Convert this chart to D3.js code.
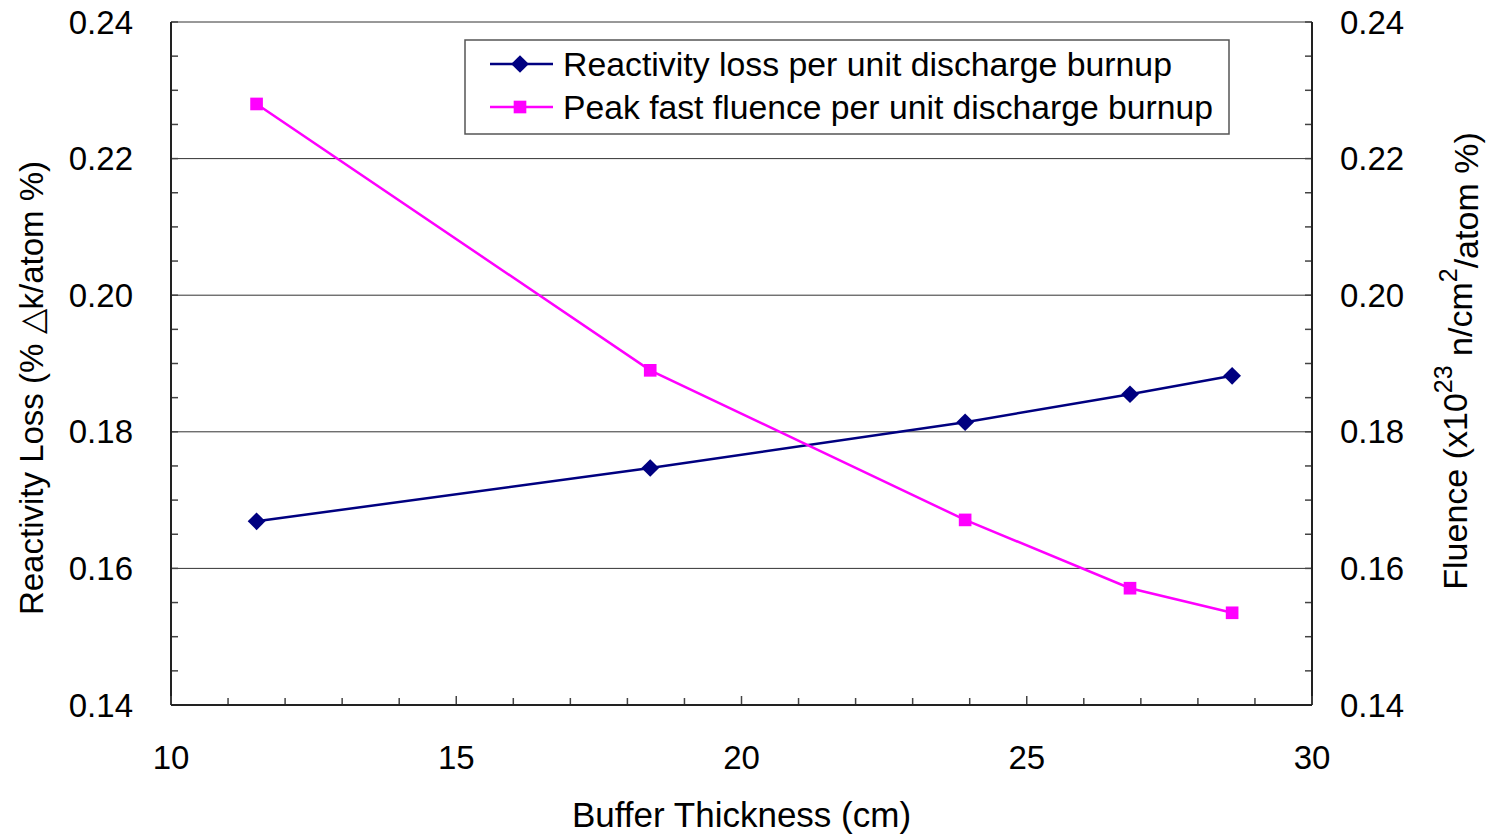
<!DOCTYPE html>
<html>
<head>
<meta charset="utf-8">
<script src="https://cdn.jsdelivr.net/npm/d3@7"></script>
<style>
  body { margin: 0; background: #fff; }
  text { font-family: "Liberation Sans", Arial, sans-serif; fill: #000; }
</style>
</head>
<body>
<div id="chart"></div>
<script>
// buffer thickness (cm)
const thickness = [11.5, 18.4, 23.92, 26.81, 28.6];
// reactivity loss per unit discharge burnup (% dk / atom %)
const reactivityLoss = [0.1669, 0.1747, 0.1814, 0.1855, 0.1882];
// peak fast fluence per unit discharge burnup (x10^23 n/cm2 / atom %)
const fastFluence = [0.2280, 0.1890, 0.1671, 0.1571, 0.1535];

const xTicks = [10, 15, 20, 25, 30];
const yTicks = [0.14, 0.16, 0.18, 0.20, 0.22, 0.24];
const seriesNames = ["Reactivity loss per unit discharge burnup", "Peak fast fluence per unit discharge burnup"];

const width = 1486, height = 836;
const margin = { top: 22, right: 174, bottom: 131, left: 171 };
const innerW = width - margin.left - margin.right;
const innerH = height - margin.top - margin.bottom;

const svg = d3.select('#chart').append('svg')
    .attr('width', width)
    .attr('height', height);

const x = d3.scaleLinear().domain([10, 30]).range([0, innerW]);
const yL = d3.scaleLinear().domain([0.14, 0.24]).range([innerH, 0]);
const yR = d3.scaleLinear().domain([0.14, 0.24]).range([innerH, 0]);

const chart = svg.append('g')
    .attr('transform', `translate(${margin.left}, ${margin.top})`);

// gridlines
chart.append('g')
    .selectAll('line')
    .data(yTicks.slice(1))
    .enter().append('line')
    .attr('x1', 0).attr('x2', innerW)
    .attr('y1', d => yL(d)).attr('y2', d => yL(d))
    .attr('stroke', '#333').attr('stroke-width', 1);

// minor ticks
const minorY = d3.range(0.14, 0.2401, 0.005);
const minorX = d3.range(10, 30.01, 1);

const leftAxis = chart.append('g').attr('class', 'axis y-left');
leftAxis.selectAll('line.minor').data(minorY).enter().append('line')
    .attr('x1', 0).attr('x2', 7)
    .attr('y1', d => yL(d)).attr('y2', d => yL(d))
    .attr('stroke', '#444').attr('stroke-width', 1.5);
leftAxis.append('line').attr('x1', 0).attr('x2', 0).attr('y1', 0).attr('y2', innerH)
    .attr('stroke', '#222').attr('stroke-width', 2);
leftAxis.selectAll('text').data(yTicks).enter().append('text')
    .attr('x', -38).attr('y', d => yL(d)).attr('dy', '0.35em')
    .attr('text-anchor', 'end').style('font-size', '33px')
    .text(d => d.toFixed(2));

const rightAxis = chart.append('g').attr('class', 'axis y-right')
    .attr('transform', `translate(${innerW}, 0)`);
rightAxis.selectAll('line.minor').data(minorY).enter().append('line')
    .attr('x1', 0).attr('x2', -7)
    .attr('y1', d => yR(d)).attr('y2', d => yR(d))
    .attr('stroke', '#444').attr('stroke-width', 1.5);
rightAxis.append('line').attr('x1', 0).attr('x2', 0).attr('y1', 0).attr('y2', innerH)
    .attr('stroke', '#222').attr('stroke-width', 2);
rightAxis.selectAll('text').data(yTicks).enter().append('text')
    .attr('x', 28).attr('y', d => yR(d)).attr('dy', '0.35em')
    .attr('text-anchor', 'start').style('font-size', '33px')
    .text(d => d.toFixed(2));

const bottomAxis = chart.append('g').attr('class', 'axis x-axis')
    .attr('transform', `translate(0, ${innerH})`);
bottomAxis.selectAll('line.minor').data(minorX).enter().append('line')
    .attr('x1', d => x(d)).attr('x2', d => x(d))
    .attr('y1', 0).attr('y2', d => d % 5 === 0 ? -9 : -7)
    .attr('stroke', '#444').attr('stroke-width', 1.5);
bottomAxis.append('line').attr('x1', 0).attr('x2', innerW).attr('y1', 0).attr('y2', 0)
    .attr('stroke', '#222').attr('stroke-width', 2);
bottomAxis.selectAll('text').data(xTicks).enter().append('text')
    .attr('x', d => x(d)).attr('y', 52).attr('dy', '0.35em')
    .attr('text-anchor', 'middle').style('font-size', '33px')
    .text(d => d);

// series lines
const lineL = d3.line().x((d, i) => x(thickness[i])).y(d => yL(d));
const lineR = d3.line().x((d, i) => x(thickness[i])).y(d => yR(d));

chart.append('path').datum(reactivityLoss)
    .attr('d', lineL).attr('fill', 'none')
    .attr('stroke', '#000080').attr('stroke-width', 2.5);
chart.append('path').datum(fastFluence)
    .attr('d', lineR).attr('fill', 'none')
    .attr('stroke', '#ff00ff').attr('stroke-width', 2.5);

const diamond = d3.symbol().type(d3.symbolDiamond2).size(200);
const square = d3.symbol().type(d3.symbolSquare).size(160);

chart.append('g').selectAll('path').data(reactivityLoss).enter().append('path')
    .attr('d', diamond)
    .attr('transform', (d, i) => `translate(${x(thickness[i])}, ${yL(d)})`)
    .attr('fill', '#000080');
chart.append('g').selectAll('path').data(fastFluence).enter().append('path')
    .attr('d', square)
    .attr('transform', (d, i) => `translate(${x(thickness[i])}, ${yR(d)})`)
    .attr('fill', '#ff00ff');

// legend
const legend = svg.append('g').attr('transform', 'translate(465, 40)');
legend.append('rect').attr('width', 764).attr('height', 94)
    .attr('fill', '#fff').attr('stroke', '#555').attr('stroke-width', 1.5);
const colors = ['#000080', '#ff00ff'];
const syms = [diamond, square];
seriesNames.forEach((name, i) => {
    const ly = 24 + i * 43;
    legend.append('line').attr('x1', 25).attr('x2', 88).attr('y1', ly).attr('y2', ly)
        .attr('stroke', colors[i]).attr('stroke-width', 2.5);
    legend.append('path').attr('d', syms[i])
        .attr('transform', `translate(55, ${ly})`).attr('fill', colors[i]);
    legend.append('text').attr('x', 98).attr('y', ly).attr('dy', '0.35em')
        .style('font-size', '34px').attr('textLength', i === 0 ? 609 : 650)
        .attr('lengthAdjust', 'spacingAndGlyphs').text(name);
});

// axis labels
svg.append('text')
    .attr('text-anchor', 'middle')
    .attr('x', margin.left + innerW / 2)
    .attr('y', 815).attr('dy', '0.35em')
    .style('font-size', '35px')
    .text('Buffer Thickness (cm)');

svg.append('text')
    .attr('text-anchor', 'middle')
    .attr('transform', `translate(31, 388) rotate(-90)`)
    .attr('dy', '0.35em')
    .style('font-size', '33px')
    .text('Reactivity Loss (% \u25B3k/atom %)');

const rl = svg.append('text')
    .attr('text-anchor', 'middle')
    .attr('transform', `translate(1455, 361) rotate(-90)`)
    .attr('dy', '0.35em')
    .style('font-size', '34px');
rl.append('tspan').text('Fluence (x10');
rl.append('tspan').attr('dy', '-0.6em').style('font-size', '25px').text('23');
rl.append('tspan').attr('dy', '0.6em').text(' n/cm');
rl.append('tspan').attr('dy', '-0.6em').style('font-size', '25px').text('2');
rl.append('tspan').attr('dy', '0.6em').text('/atom %)');
</script>
</body>
</html>
